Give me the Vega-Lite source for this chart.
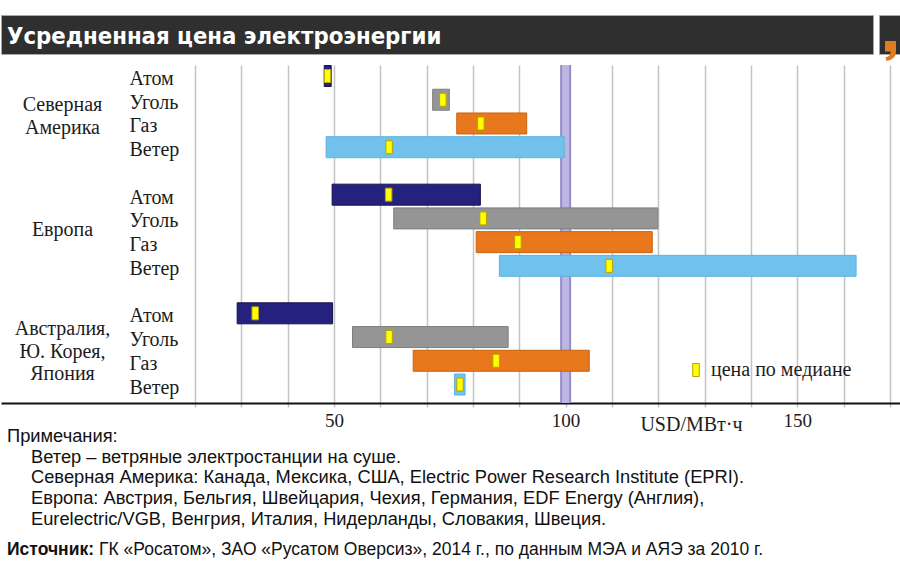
{
  "$schema": "https://vega.github.io/schema/vega-lite/v6.json",
  "padding": {"top": 14, "left": 0, "right": 0, "bottom": 17},
  "autosize": {"type": "pad"},
  "background": "white",
  "config": {"view": {"stroke": null}},
  "datasets": {
    "prices": [
      {"region": "Северная Америка", "fuel": "Атом", "id": "Северная Америка|Атом", "lo": 47.9, "hi": 49.4, "med": 48.6},
      {"region": "Северная Америка", "fuel": "Уголь", "id": "Северная Америка|Уголь", "lo": 71.3, "hi": 74.9, "med": 73.5},
      {"region": "Северная Америка", "fuel": "Газ", "id": "Северная Америка|Газ", "lo": 76.5, "hi": 91.6, "med": 81.7},
      {"region": "Северная Америка", "fuel": "Ветер", "id": "Северная Америка|Ветер", "lo": 48.3, "hi": 99.7, "med": 61.9},
      {"region": "Европа", "fuel": "Атом", "id": "Европа|Атом", "lo": 49.6, "hi": 81.6, "med": 61.8},
      {"region": "Европа", "fuel": "Уголь", "id": "Европа|Уголь", "lo": 62.9, "hi": 119.9, "med": 82.2},
      {"region": "Европа", "fuel": "Газ", "id": "Европа|Газ", "lo": 80.7, "hi": 118.7, "med": 89.7},
      {"region": "Европа", "fuel": "Ветер", "id": "Европа|Ветер", "lo": 85.7, "hi": 162.7, "med": 109.4},
      {"region": "Австралия, Ю. Корея, Япония", "fuel": "Атом", "id": "Австралия, Ю. Корея, Япония|Атом", "lo": 29.1, "hi": 49.7, "med": 33.0},
      {"region": "Австралия, Ю. Корея, Япония", "fuel": "Уголь", "id": "Австралия, Ю. Корея, Япония|Уголь", "lo": 54.0, "hi": 87.6, "med": 61.9},
      {"region": "Австралия, Ю. Корея, Япония", "fuel": "Газ", "id": "Австралия, Ю. Корея, Япония|Газ", "lo": 67.1, "hi": 105.1, "med": 85.0},
      {"region": "Австралия, Ю. Корея, Япония", "fuel": "Ветер", "id": "Австралия, Ю. Корея, Япония|Ветер", "lo": 76.0, "hi": 78.3, "med": 77.2}
    ],
    "notes": [
      {"n": 0, "t": "Примечания:"},
      {"n": 1, "t": "Ветер – ветряные электростанции на суше."},
      {"n": 2, "t": "Северная Америка: Канада, Мексика, США, Electric Power Research Institute (EPRI)."},
      {"n": 3, "t": "Европа: Австрия, Бельгия, Швейцария, Чехия, Германия, EDF Energy (Англия),"},
      {"n": 4, "t": "Eurelectric/VGB, Венгрия, Италия, Нидерланды, Словакия, Швеция."}
    ]
  },
  "bounds": "full",
  "spacing": -3,
  "vconcat": [
    {
      "bounds": "full",
      "spacing": 4,
      "hconcat": [
        {
          "width": 872, "height": 39,
          "view": {"fill": "#2f2f2f", "stroke": "#a8a8a8", "strokeWidth": 1},
          "data": {"values": [{"t": "Усредненная цена электроэнергии"}]},
          "mark": {"type": "text", "align": "left", "baseline": "middle", "dx": 6, "dy": 2, "color": "#ffffff", "font": "DejaVu Sans Condensed, Liberation Sans Narrow, sans-serif", "fontSize": 23.7, "fontWeight": "bold"},
          "encoding": {
            "x": {"datum": 0, "type": "quantitative", "scale": {"domain": [0, 1]}, "axis": null},
            "text": {"field": "t"}
          }
        },
        {
          "width": 24, "height": 39,
          "view": {"fill": "#2f2f2f", "stroke": "#a8a8a8", "strokeWidth": 1},
          "data": {"values": [{"t": ","}]},
          "mark": {"type": "point", "shape": "M-0.6,0.65H0.5V1.7C0.5,2.2 0.2,2.55 -0.45,2.65L-0.55,2.3C-0.15,2.2 -0.05,2.0 -0.05,1.7H-0.6Z", "size": 400, "filled": true, "color": "#e07b22", "opacity": 1},
          "encoding": {}
        }
      ]
    },
    {
      "bounds": "flush",
      "spacing": 12,
      "vconcat": [
        {
          "width": 900, "height": 338,
          "layer": [
            {
              "data": {"values": [{"ref": 100}]},
              "mark": {"type": "rule", "color": "#958dca", "strokeWidth": 11},
              "encoding": {"x": {"field": "ref", "type": "quantitative", "scale": {"domain": [-21.87, 172.39], "nice": false, "zero": false},
                  "axis": {"values": [20, 30, 40, 50, 60, 70, 80, 90, 100, 110, 120, 130, 140, 150, 160, 170], "labelExpr": "datum.value % 50 === 0 ? datum.label : ''", "grid": true, "gridColor": "#c4c4c4", "gridWidth": 1.5, "domain": true, "domainColor": "#111111", "domainWidth": 2, "ticks": true, "tickColor": "#c4c4c4", "tickWidth": 1.5, "tickSize": 4, "labelFont": "Liberation Serif", "labelFontSize": 19, "labelColor": "#1c1c1c", "labelPadding": 4, "labelOverlap": false, "labelFlush": false, "title": "USD/МВт·ч", "titleX": 690, "titleY": 21, "titleAlign": "center", "titleBaseline": "middle", "titleFont": "Liberation Serif", "titleFontSize": 20, "titleFontWeight": "normal", "titleColor": "#1c1c1c"}}}
            },
            {
              "data": {"values": [{"ref": 100}]},
              "mark": {"type": "rule", "color": "#bdb6e3", "strokeWidth": 7},
              "encoding": {"x": {"field": "ref", "type": "quantitative", "scale": {"domain": [-21.87, 172.39], "nice": false, "zero": false},
                  "axis": {"values": [20, 30, 40, 50, 60, 70, 80, 90, 100, 110, 120, 130, 140, 150, 160, 170], "labelExpr": "datum.value % 50 === 0 ? datum.label : ''", "grid": true, "gridColor": "#c4c4c4", "gridWidth": 1.5, "domain": true, "domainColor": "#111111", "domainWidth": 2, "ticks": true, "tickColor": "#c4c4c4", "tickWidth": 1.5, "tickSize": 4, "labelFont": "Liberation Serif", "labelFontSize": 19, "labelColor": "#1c1c1c", "labelPadding": 4, "labelOverlap": false, "labelFlush": false, "title": "USD/МВт·ч", "titleX": 690, "titleY": 21, "titleAlign": "center", "titleBaseline": "middle", "titleFont": "Liberation Serif", "titleFontSize": 20, "titleFontWeight": "normal", "titleColor": "#1c1c1c"}}}
            },
            {
              "data": {"name": "prices"},
              "mark": {"type": "bar", "strokeWidth": 1},
              "encoding": {
                "x": {"field": "lo", "type": "quantitative", "scale": {"domain": [-21.87, 172.39], "nice": false, "zero": false},
                  "axis": {"values": [20, 30, 40, 50, 60, 70, 80, 90, 100, 110, 120, 130, 140, 150, 160, 170], "labelExpr": "datum.value % 50 === 0 ? datum.label : ''", "grid": true, "gridColor": "#c4c4c4", "gridWidth": 1.5, "domain": true, "domainColor": "#111111", "domainWidth": 2, "ticks": true, "tickColor": "#c4c4c4", "tickWidth": 1.5, "tickSize": 4, "labelFont": "Liberation Serif", "labelFontSize": 19, "labelColor": "#1c1c1c", "labelPadding": 4, "labelOverlap": false, "labelFlush": false, "title": "USD/МВт·ч", "titleX": 690, "titleY": 21, "titleAlign": "center", "titleBaseline": "middle", "titleFont": "Liberation Serif", "titleFontSize": 20, "titleFontWeight": "normal", "titleColor": "#1c1c1c"}},
                "x2": {"field": "hi"},
                "y": {"field": "id", "type": "nominal",
                  "scale": {"type": "band", "domain": ["Северная Америка|Атом", "Северная Америка|Уголь", "Северная Америка|Газ", "Северная Америка|Ветер", "_1", "Европа|Атом", "Европа|Уголь", "Европа|Газ", "Европа|Ветер", "_2", "Австралия, Ю. Корея, Япония|Атом", "Австралия, Ю. Корея, Япония|Уголь", "Австралия, Ю. Корея, Япония|Газ", "Австралия, Ю. Корея, Япония|Ветер"], "paddingInner": 0.115, "paddingOuter": 0.179, "align": 0.06},
                  "axis": {"orient": "left", "title": null, "labelExpr": "indexof(datum.value, '|') < 0 ? '' : split(datum.value, '|')[1]", "domain": false, "ticks": false, "tickSize": 0, "grid": false, "labelAlign": "left", "labelPadding": -128, "labelBaseline": "middle", "labelOffset": 3, "labelFont": "Liberation Serif", "labelFontSize": 20, "labelColor": "#1c1c1c", "labelOverlap": false, "labelBound": false, "labelLimit": 0}},
                "color": {"field": "fuel", "type": "nominal", "scale": {"domain": ["Атом", "Уголь", "Газ", "Ветер"], "range": ["#24217f", "#959595", "#e9771c", "#70c2ec"]}, "legend": null},
                "stroke": {"field": "fuel", "type": "nominal", "scale": {"domain": ["Атом", "Уголь", "Газ", "Ветер"], "range": ["#15134f", "#7e7e7e", "#c96413", "#5db3e2"]}, "legend": null}
              }
            },
            {
              "data": {"name": "prices"},
              "mark": {"type": "point", "shape": "M-0.5,-1H0.5V1H-0.5Z", "filled": true, "size": 169, "stroke": "#b5a300", "strokeWidth": 1, "opacity": 1},
              "encoding": {
                "x": {"field": "med", "type": "quantitative", "scale": {"domain": [-21.87, 172.39], "nice": false, "zero": false},
                  "axis": {"values": [20, 30, 40, 50, 60, 70, 80, 90, 100, 110, 120, 130, 140, 150, 160, 170], "labelExpr": "datum.value % 50 === 0 ? datum.label : ''", "grid": true, "gridColor": "#c4c4c4", "gridWidth": 1.5, "domain": true, "domainColor": "#111111", "domainWidth": 2, "ticks": true, "tickColor": "#c4c4c4", "tickWidth": 1.5, "tickSize": 4, "labelFont": "Liberation Serif", "labelFontSize": 19, "labelColor": "#1c1c1c", "labelPadding": 4, "labelOverlap": false, "labelFlush": false, "title": "USD/МВт·ч", "titleX": 690, "titleY": 21, "titleAlign": "center", "titleBaseline": "middle", "titleFont": "Liberation Serif", "titleFontSize": 20, "titleFontWeight": "normal", "titleColor": "#1c1c1c"}},
                "y": {"field": "id", "type": "nominal",
                  "scale": {"type": "band", "domain": ["Северная Америка|Атом", "Северная Америка|Уголь", "Северная Америка|Газ", "Северная Америка|Ветер", "_1", "Европа|Атом", "Европа|Уголь", "Европа|Газ", "Европа|Ветер", "_2", "Австралия, Ю. Корея, Япония|Атом", "Австралия, Ю. Корея, Япония|Уголь", "Австралия, Ю. Корея, Япония|Газ", "Австралия, Ю. Корея, Япония|Ветер"], "paddingInner": 0.115, "paddingOuter": 0.179, "align": 0.06},
                  "axis": null},
                "fill": {"datum": "цена по медиане", "type": "nominal", "scale": {"range": ["#ffff00"]},
                  "legend": {"orient": "none", "legendX": 685, "legendY": 345, "title": null, "padding": 0, "symbolType": "M-0.5,-1H0.5V1H-0.5Z", "symbolSize": 169, "symbolStrokeColor": "#b5a300", "symbolStrokeWidth": 1, "symbolFillColor": "#ffff00", "labelFont": "Liberation Serif", "labelFontSize": 20, "labelColor": "#1c1c1c", "labelOffset": 5, "labelLimit": 0}}
              }
            },
            {
              "data": {"name": "prices"},
              "mark": {"type": "text", "text": ""},
              "encoding": {
                "y": {"field": "region", "type": "nominal",
                  "scale": {"type": "point", "domain": ["Северная Америка", "Европа", "Австралия, Ю. Корея, Япония"], "padding": 0.4245, "align": 0.463},
                  "axis": {"orient": "left", "title": null, "labelExpr": "datum.value == 'Северная Америка' ? ['Северная', 'Америка'] : datum.value == 'Европа' ? 'Европа' : ['Австралия,', 'Ю. Корея,', 'Япония']", "domain": false, "ticks": false, "tickSize": 0, "grid": false, "labelAlign": "center", "labelPadding": -61, "labelBaseline": "middle",
                    "labelOffset": {"condition": [{"test": "datum.value == 'Северная Америка'", "value": -7}, {"test": "datum.value == 'Австралия, Ю. Корея, Япония'", "value": -20}], "value": -1},
                    "labelLineHeight": 22.5, "labelFont": "Liberation Serif", "labelFontSize": 20, "labelColor": "#1c1c1c", "labelOverlap": false, "labelBound": false, "labelLimit": 0}}
              }
            }
          ],
          "resolve": {"scale": {"y": "independent"}, "axis": {"y": "independent"}}
        },
        {
          "width": 900, "height": 115,
          "data": {"name": "notes"},
          "layer": [
            {
              "transform": [{"filter": "datum.n == 0"}],
              "mark": {"type": "text", "align": "left", "baseline": "middle", "dx": 6, "font": "Liberation Sans", "fontSize": 18.3, "color": "#111111"},
              "encoding": {
                "x": {"datum": 0, "type": "quantitative", "scale": {"domain": [0, 1]}, "axis": null},
                "y": {"field": "n", "type": "ordinal", "scale": {"type": "point", "domain": [0, 1, 2, 3, 4], "padding": 0.788, "align": 0.677}, "axis": null},
                "text": {"field": "t"}
              }
            },
            {
              "transform": [{"filter": "datum.n > 0"}],
              "mark": {"type": "text", "align": "left", "baseline": "middle", "dx": 30, "font": "Liberation Sans", "fontSize": 18.3, "color": "#111111"},
              "encoding": {
                "x": {"datum": 0, "type": "quantitative", "scale": {"domain": [0, 1]}, "axis": null},
                "y": {"field": "n", "type": "ordinal", "scale": {"type": "point", "domain": [0, 1, 2, 3, 4], "padding": 0.788, "align": 0.677}, "axis": null},
                "text": {"field": "t"}
              }
            }
          ]
        },
        {
          "width": 900, "height": 15,
          "data": {"values": [{"label": "Источник:", "body": "ГК «Росатом», ЗАО «Русатом Оверсиз», 2014 г., по данным МЭА и АЯЭ за 2010 г."}]},
          "layer": [
            {
              "mark": {"type": "text", "align": "left", "baseline": "middle", "dx": 6, "font": "Liberation Sans", "fontSize": 17.5, "fontWeight": "bold", "color": "#111111"},
              "encoding": {
                "x": {"datum": 0, "type": "quantitative", "scale": {"domain": [0, 1]}, "axis": null},
                "text": {"field": "label"}
              }
            },
            {
              "mark": {"type": "text", "align": "left", "baseline": "middle", "dx": 98, "font": "Liberation Sans", "fontSize": 17.5, "color": "#111111"},
              "encoding": {
                "x": {"datum": 0, "type": "quantitative", "scale": {"domain": [0, 1]}, "axis": null},
                "text": {"field": "body"}
              }
            }
          ]
        }
      ]
    }
  ]
}
